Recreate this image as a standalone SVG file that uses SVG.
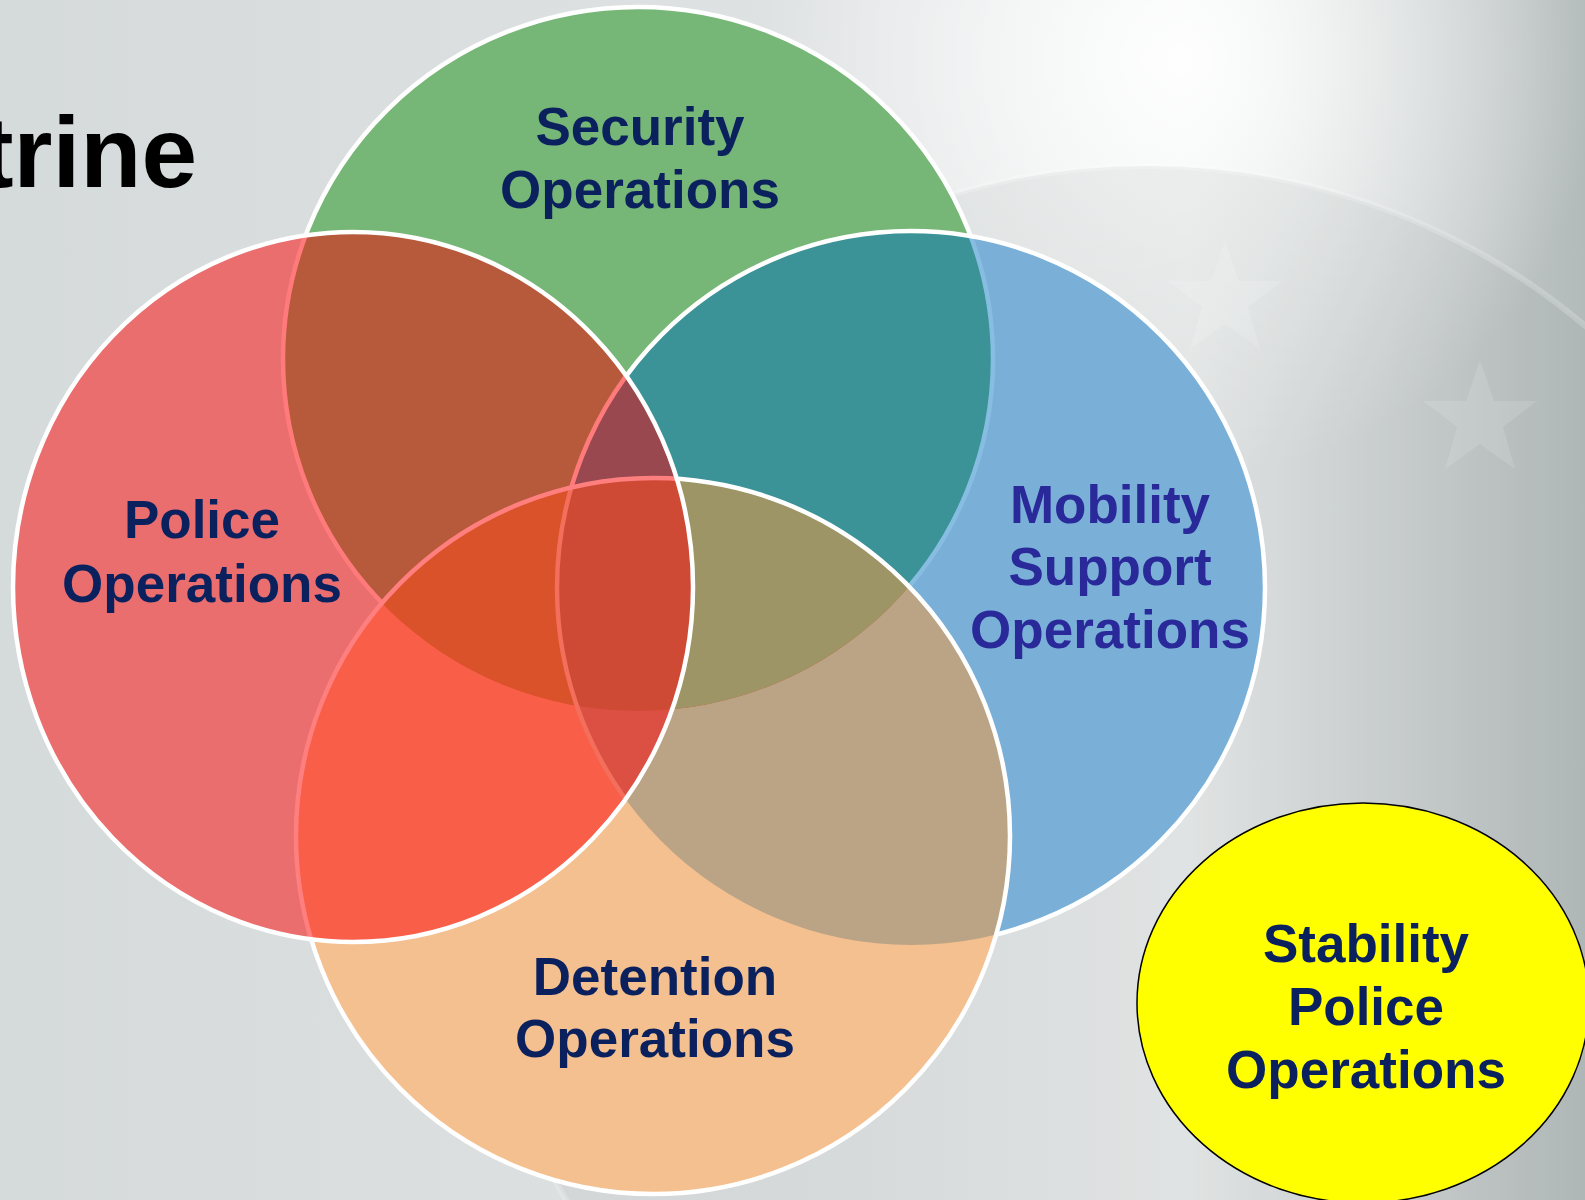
<svg xmlns="http://www.w3.org/2000/svg" xmlns:xlink="http://www.w3.org/1999/xlink" width="1585" height="1200" viewBox="0 0 1585 1200">
<style>
.lbl{font-family:"Liberation Sans",Arial,sans-serif;font-weight:bold;font-size:53px;text-anchor:middle;fill:#0b215e}
.mob{fill:#29299a}
.edge{fill:none;stroke-width:4.5}
</style>
<defs>
<linearGradient id="bg" x1="0" y1="0" x2="1" y2="0">
<stop offset="0" stop-color="#d5dadb"/>
<stop offset="0.5" stop-color="#dfe2e3"/>
<stop offset="0.75" stop-color="#eceeee"/>
<stop offset="1" stop-color="#b3baba"/>
</linearGradient>
<radialGradient id="hl" cx="1180" cy="60" r="420" gradientUnits="userSpaceOnUse">
<stop offset="0" stop-color="#ffffff" stop-opacity="0.95"/>
<stop offset="1" stop-color="#ffffff" stop-opacity="0"/>
</radialGradient>
<ellipse id="eG" cx="638" cy="359" rx="355" ry="352"/>
<ellipse id="eR" cx="353" cy="587" rx="340" ry="355"/>
<ellipse id="eB" cx="911" cy="588" rx="354" ry="357"/>
<ellipse id="eO" cx="653" cy="836" rx="357" ry="358"/>
<clipPath id="cG"><use xlink:href="#eG"/></clipPath>
<clipPath id="cR"><use xlink:href="#eR"/></clipPath>
<clipPath id="cB"><use xlink:href="#eB"/></clipPath>
<clipPath id="cO"><use xlink:href="#eO"/></clipPath>
<mask id="mOutRBO" maskUnits="userSpaceOnUse" x="0" y="0" width="1585" height="1200">
<rect width="1585" height="1200" fill="#fff"/>
<use xlink:href="#eR" fill="#000"/><use xlink:href="#eB" fill="#000"/><use xlink:href="#eO" fill="#000"/>
</mask>
<mask id="mInRoutO" maskUnits="userSpaceOnUse" x="0" y="0" width="1585" height="1200">
<use xlink:href="#eR" fill="#fff"/><use xlink:href="#eO" fill="#000"/>
</mask>
<mask id="mInBoutRO" maskUnits="userSpaceOnUse" x="0" y="0" width="1585" height="1200">
<use xlink:href="#eB" fill="#fff"/><use xlink:href="#eR" fill="#000"/><use xlink:href="#eO" fill="#000"/>
</mask>
<mask id="mOutRO" maskUnits="userSpaceOnUse" x="0" y="0" width="1585" height="1200">
<rect width="1585" height="1200" fill="#fff"/>
<use xlink:href="#eR" fill="#000"/><use xlink:href="#eO" fill="#000"/>
</mask>
<mask id="mOutR" maskUnits="userSpaceOnUse" x="0" y="0" width="1585" height="1200">
<rect width="1585" height="1200" fill="#fff"/>
<use xlink:href="#eR" fill="#000"/>
</mask>
<polygon id="star" points="0,-60 14,-19 57,-19 23,7 35,49 0,24 -35,49 -23,7 -57,-19 -14,-19"/>
</defs>

<g id="background">
<rect width="1585" height="1200" fill="url(#bg)"/>
<rect width="1585" height="1200" fill="url(#hl)"/>
<circle cx="1147" cy="846" r="680" fill="#9aa3a4" fill-opacity="0.14"/>
<circle cx="1147" cy="846" r="680" fill="none" stroke="#ffffff" stroke-opacity="0.2" stroke-width="6"/>
<use xlink:href="#star" transform="translate(1225,300)" fill="#ffffff" fill-opacity="0.15"/>
<use xlink:href="#star" transform="translate(1480,420)" fill="#ffffff" fill-opacity="0.12"/>
</g>

<text x="197" y="187" font-family="Liberation Sans, Arial, sans-serif" font-weight="bold" font-size="100" text-anchor="end" fill="#000">trine</text>

<g id="venn-fills">
<use xlink:href="#eG" fill="#76b676"/>
<use xlink:href="#eB" fill="#7ab0d8"/>
<use xlink:href="#eO" fill="#f4c08f"/>
<use xlink:href="#eR" fill="#eb6e6f"/>
<g clip-path="url(#cG)"><use xlink:href="#eR" fill="#b65a3b"/></g>
<g clip-path="url(#cG)"><use xlink:href="#eB" fill="#3b9398"/></g>
<g clip-path="url(#cR)"><use xlink:href="#eB" fill="#9a4850"/></g>
<g clip-path="url(#cR)"><use xlink:href="#eO" fill="#f85e48"/></g>
<g clip-path="url(#cB)"><use xlink:href="#eO" fill="#bba486"/></g>
<g clip-path="url(#cG)"><use xlink:href="#eO" fill="#da5229"/></g>
<g clip-path="url(#cG)"><g clip-path="url(#cR)"><use xlink:href="#eB" fill="#9a4850"/></g></g>
<g clip-path="url(#cG)"><g clip-path="url(#cR)"><use xlink:href="#eO" fill="#da5229"/></g></g>
<g clip-path="url(#cG)"><g clip-path="url(#cB)"><use xlink:href="#eO" fill="#9d9566"/></g></g>
<g clip-path="url(#cR)"><g clip-path="url(#cB)"><use xlink:href="#eO" fill="#dc5043"/></g></g>
<g clip-path="url(#cG)"><g clip-path="url(#cR)"><g clip-path="url(#cB)"><use xlink:href="#eO" fill="#cf4a35"/></g></g></g>
</g>

<g id="security-operations">
<use xlink:href="#eG" class="edge" stroke="#ffffff" mask="url(#mOutRBO)"/>
<use xlink:href="#eG" class="edge" stroke="#88bde2" mask="url(#mInBoutRO)"/>
<use xlink:href="#eG" class="edge" stroke="#ff7b7b" mask="url(#mInRoutO)"/>
<text class="lbl" x="640" y="145">Security</text>
<text class="lbl" x="640" y="208">Operations</text>
</g>

<g id="mobility-support-operations">
<use xlink:href="#eB" class="edge" stroke="#ffffff" mask="url(#mOutRO)"/>
<use xlink:href="#eB" class="edge" stroke="#ff7b7b" mask="url(#mInRoutO)"/>
<g clip-path="url(#cR)"><use xlink:href="#eB" class="edge" stroke="#f46e5c" clip-path="url(#cO)"/></g>
<text class="lbl mob" x="1110" y="523">Mobility</text>
<text class="lbl mob" x="1110" y="585">Support</text>
<text class="lbl mob" x="1110" y="648">Operations</text>
</g>

<g id="detention-operations">
<use xlink:href="#eO" class="edge" stroke="#ffffff" mask="url(#mOutR)"/>
<g clip-path="url(#cR)"><use xlink:href="#eO" class="edge" stroke="#ff7f7f"/></g>
<text class="lbl" x="655" y="995">Detention</text>
<text class="lbl" x="655" y="1057">Operations</text>
</g>

<g id="police-operations">
<use xlink:href="#eR" class="edge" stroke="#ffffff"/>
<text class="lbl" x="202" y="538">Police</text>
<text class="lbl" x="202" y="602">Operations</text>
</g>

<g id="stability-police-operations">
<ellipse cx="1363" cy="1003" rx="226" ry="200" fill="#ffff00" stroke="#000" stroke-width="1.5"/>
<text class="lbl" x="1366" y="962">Stability</text>
<text class="lbl" x="1366" y="1025">Police</text>
<text class="lbl" x="1366" y="1088">Operations</text>
</g>

<g id="connectors"/>
</svg>
